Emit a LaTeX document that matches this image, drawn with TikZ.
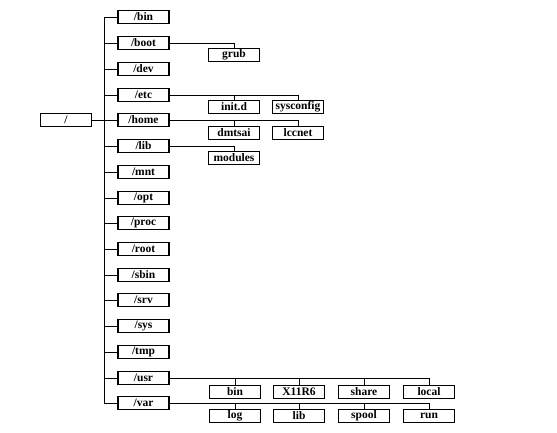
\documentclass[tikz,border=0pt]{standalone}
\usepackage{fontspec}
\setmainfont{Liberation Serif}
\begin{document}
\begin{tikzpicture}[x=1pt,y=-1pt,
  dirbox/.style={draw, line width=1.2pt, minimum width=51pt, minimum height=13pt, inner sep=0pt, font=\fontsize{11.5}{11.5}\selectfont\bfseries},
  link/.style={line width=0.9pt}]
\useasboundingbox (0,0) rectangle (557,433);
\node[dirbox] (top) at (66,120) {/};
\coordinate (t) at (104,0);
\foreach \n/\y in {bin/17, boot/43, dev/69, etc/95, home/120, lib/146, mnt/172, opt/198, proc/223, root/249, sbin/275, srv/300, sys/326, tmp/352, usr/378, var/403}
{
  \node[dirbox] (\n) at (143.5,\y) {/\n};
  \draw[link] (t |- \n.west) -- (\n.west);
}
\draw[link] (t |- bin.west) -- (t |- var.west);
\draw[link] (top.east) -- (t |- top.east);
% level 2
\node[dirbox] (grub) at (234,55) {grub};
\node[dirbox] (initd) at (234,107) {init.d};
\node[dirbox] (sysconfig) at (298,107) {sysconfig};
\node[dirbox] (dmtsai) at (234,133) {dmtsai};
\node[dirbox] (lccnet) at (298,133) {lccnet};
\node[dirbox] (modules) at (234,158) {modules};
\node[dirbox] (ubin) at (235,392) {bin};
\node[dirbox] (x11) at (299,392) {X11R6};
\node[dirbox] (share) at (364,392) {share};
\node[dirbox] (local) at (429,392) {local};
\node[dirbox] (log) at (235,416) {log};
\node[dirbox] (vlib) at (299,416) {lib};
\node[dirbox] (spool) at (364,416) {spool};
\node[dirbox] (run) at (429,416) {run};
\draw[link] (boot.east) -| (grub.north);
\draw[link] (etc.east) -| (sysconfig.north);
\draw[link] (initd.north) -- (initd.north |- etc.east);
\draw[link] (home.east) -| (lccnet.north);
\draw[link] (dmtsai.north) -- (dmtsai.north |- home.east);
\draw[link] (lib.east) -| (modules.north);
\draw[link] (usr.east) -| (local.north);
\foreach \c in {ubin,x11,share} \draw[link] (\c.north) -- (\c.north |- usr.east);
\draw[link] (var.east) -| (run.north);
\foreach \c in {log,vlib,spool} \draw[link] (\c.north) -- (\c.north |- var.east);
\end{tikzpicture}
\end{document}
